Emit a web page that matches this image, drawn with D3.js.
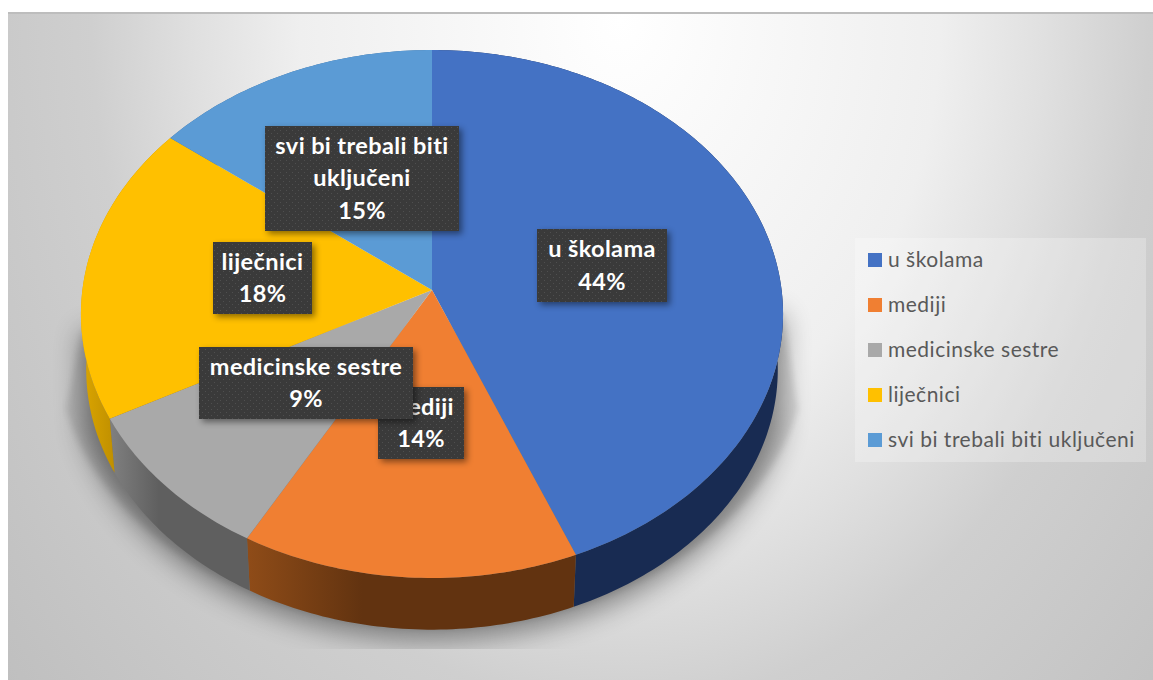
<!DOCTYPE html>
<html>
<head>
<meta charset="utf-8">
<script src="https://cdnjs.cloudflare.com/ajax/libs/d3/7.8.5/d3.min.js"></script>
<style>
  body { margin: 0; background: #fff; }
  svg { display: block; }
  text { font-family: Lato, "Open Sans", sans-serif; }
</style>
</head>
<body>
<div id="chart"></div>
<script>
// ===== data =====
var categories = ["u školama", "mediji", "medicinske sestre", "liječnici", "svi bi trebali biti uključeni"];
var percentLabels = [44, 14, 9, 18, 15];
// slice sizes, the labels above are rounded
var shares = [43.85, 14.25, 9.1, 18.3, 14.5];
var labelLines = [["u školama"], ["mediji"], ["medicinske sestre"], ["liječnici"], ["svi bi trebali biti", "uključeni"]];

// ===== styles and layout =====
var topColors = ["#4472c4", "#f07f32", "#a9a9a9", "#ffc000", "#5b9bd5"];
var wallColors = [["#1b2f59", "#182b52"], ["#8f4c18", "#623310"], ["#808080", "#5f5f5f"], ["#dca600", "#c09000"], ["#3a6c9c", "#3a6c9c"]];
// manually placed data label boxes, like in the original: x, y, w, h
var labelBoxes = [[537, 229, 130, 73], [378, 387, 86, 72], [199, 347, 214, 72], [213, 242, 99, 72], [265, 126, 194, 105]];

var width = 1153;
var height = 680;
var cx = 432;
var cy = 290;
var rx = 349.6;
var ry = 261.8;
var persp = 0.0909;   // foreshortening of the tilted disc
var wallDrop = 56;
var wallScale = 0.985;

function project(angle, scale, drop) {
  var w = 1 + persp * Math.cos(angle);
  return [
    cx + (rx * scale * Math.sin(angle)) / w,
    cy - (ry * scale * Math.cos(angle)) / w + drop
  ];
}

function sampleAngles(a0, a1) {
  var n = Math.max(2, Math.ceil((a1 - a0) * 60));
  return d3.range(n + 1).map(function(i) {
    return a0 + ((a1 - a0) * i) / n;
  });
}

var line = d3.line();

var svg = d3
  .select("#chart")
  .append("svg")
  .attr("width", width)
  .attr("height", height);

var defs = svg.append("defs");

// ---- background ----
var bg = defs
  .append("radialGradient")
  .attr("id", "bgGrad")
  .attr("gradientUnits", "userSpaceOnUse")
  .attr("cx", 0)
  .attr("cy", 0)
  .attr("r", 800)
  .attr("gradientTransform", "translate(620,20) scale(1,1.3)");
[[0, "#ffffff"], [0.4, "#efefef"], [0.53, "#e0e0e0"], [0.66, "#cfcfcf"], [1, "#bfbfbf"]].forEach(function(s) {
  bg.append("stop").attr("offset", s[0]).attr("stop-color", s[1]);
});

svg.append("rect").attr("x", 8).attr("y", 12).attr("width", width - 8).attr("height", height - 12).attr("fill", "url(#bgGrad)");
svg.append("rect").attr("x", 8).attr("y", 12).attr("width", width - 8).attr("height", 2).attr("fill", "#bdbdbd");

// ---- shadows under the pie ----
defs.append("filter").attr("id", "blurWide").attr("x", "-20%").attr("y", "-20%").attr("width", "140%").attr("height", "140%")
  .append("feGaussianBlur").attr("stdDeviation", 14);
defs.append("filter").attr("id", "blurSoft").attr("x", "-20%").attr("y", "-20%").attr("width", "140%").attr("height", "140%")
  .append("feGaussianBlur").attr("stdDeviation", 3);
defs.append("clipPath").attr("id", "shadowClip")
  .append("rect").attr("x", 8).attr("y", 14).attr("width", width - 8).attr("height", 635);

function shadowPath(scale, drop) {
  var pts = [project(Math.PI * 0.53, 1, 0)];
  sampleAngles(Math.PI * 0.6, Math.PI * 1.4).forEach(function(a) {
    pts.push(project(a, scale, drop));
  });
  pts.push(project(Math.PI * 1.45, 1, 0));
  return line(pts) + "Z";
}

var shadows = svg.append("g").attr("clip-path", "url(#shadowClip)");
shadows.append("path").attr("d", shadowPath(1.07, 30)).attr("fill", "#000").attr("opacity", 0.1).attr("filter", "url(#blurSoft)");
shadows.append("path").attr("d", shadowPath(1.02, 56)).attr("fill", "#000").attr("opacity", 0.42).attr("filter", "url(#blurWide)");

// ---- pie ----
var arcs = d3.pie().sort(null).startAngle(0).endAngle(2 * Math.PI)(shares);

arcs.forEach(function(d, i) {
  var grad = defs
    .append("linearGradient")
    .attr("id", "wall" + i)
    .attr("x1", 0)
    .attr("x2", 1)
    .attr("y1", 0)
    .attr("y2", 0);
  grad.append("stop").attr("offset", 0).attr("stop-color", wallColors[i][0]);
  grad.append("stop").attr("offset", 0.35).attr("stop-color", wallColors[i][1]);
});

var walls = svg.append("g");
walls
  .selectAll("path")
  .data(arcs)
  .enter()
  .append("path")
  .attr("d", function(d) {
    var angles = sampleAngles(d.startAngle, d.endAngle);
    var upper = angles.map(function(a) { return project(a, 1, 0); });
    var lower = angles.slice().reverse().map(function(a) { return project(a, wallScale, wallDrop); });
    return line(upper.concat(lower)) + "Z";
  })
  .attr("fill", function(d, i) { return "url(#wall" + i + ")"; });

var slices = svg.append("g");
slices
  .selectAll("path")
  .data(arcs)
  .enter()
  .append("path")
  .attr("d", function(d) {
    var rim = sampleAngles(d.startAngle, d.endAngle).map(function(a) { return project(a, 1, 0); });
    return line([[cx, cy]].concat(rim)) + "Z";
  })
  .attr("fill", function(d, i) { return topColors[i]; });

// ---- data labels ----
var dots = defs
  .append("pattern")
  .attr("id", "dots")
  .attr("patternUnits", "userSpaceOnUse")
  .attr("width", 6)
  .attr("height", 6);
dots.append("rect").attr("width", 6).attr("height", 6).attr("fill", "#3a3a3a");
dots.append("rect").attr("x", 1).attr("y", 1).attr("width", 1).attr("height", 1).attr("fill", "#4f4f4f");
dots.append("rect").attr("x", 4).attr("y", 4).attr("width", 1).attr("height", 1).attr("fill", "#4f4f4f");

var labels = svg
  .append("g")
  .selectAll("g")
  .data(categories)
  .enter()
  .append("g");

labels
  .append("rect")
  .attr("x", function(d, i) { return labelBoxes[i][0]; })
  .attr("y", function(d, i) { return labelBoxes[i][1]; })
  .attr("width", function(d, i) { return labelBoxes[i][2]; })
  .attr("height", function(d, i) { return labelBoxes[i][3]; })
  .attr("fill", "url(#dots)")
  .style("filter", "drop-shadow(3px 3px 3px rgba(0,0,0,0.45))");

labels.each(function(d, i) {
  var box = labelBoxes[i];
  var rows = labelLines[i].concat([percentLabels[i] + "%"]);
  var rowH = 32.6;
  var startY = box[1] + box[3] / 2 - ((rows.length - 1) * rowH) / 2;
  d3.select(this)
    .selectAll("text")
    .data(rows)
    .enter()
    .append("text")
    .attr("x", box[0] + box[2] / 2)
    .attr("y", function(r, j) { return startY + j * rowH; })
    .attr("dy", "0.34em")
    .attr("text-anchor", "middle")
    .attr("fill", "#fff")
    .style("font-size", "23.5px")
    .style("font-weight", 700)
    .style("letter-spacing", "0.4px")
    .text(function(r) { return r; });
});

// ---- legend ----
svg.append("rect").attr("x", 855).attr("y", 238).attr("width", 291).attr("height", 224).attr("fill", "#fff").attr("opacity", 0.25);

var legendY = d3.scalePoint().domain(categories).range([260, 440]);

var legend = svg
  .append("g")
  .selectAll("g")
  .data(categories)
  .enter()
  .append("g")
  .attr("transform", function(d) { return "translate(868," + legendY(d) + ")"; });

legend
  .append("rect")
  .attr("x", 0)
  .attr("y", -7)
  .attr("width", 14)
  .attr("height", 14)
  .attr("fill", function(d, i) { return topColors[i]; });

legend
  .append("text")
  .attr("x", 20)
  .attr("dy", "0.34em")
  .attr("fill", "#595959")
  .style("font-size", "21px")
  .style("letter-spacing", "0.5px")
  .text(function(d) { return d; });
</script>
</body>
</html>
